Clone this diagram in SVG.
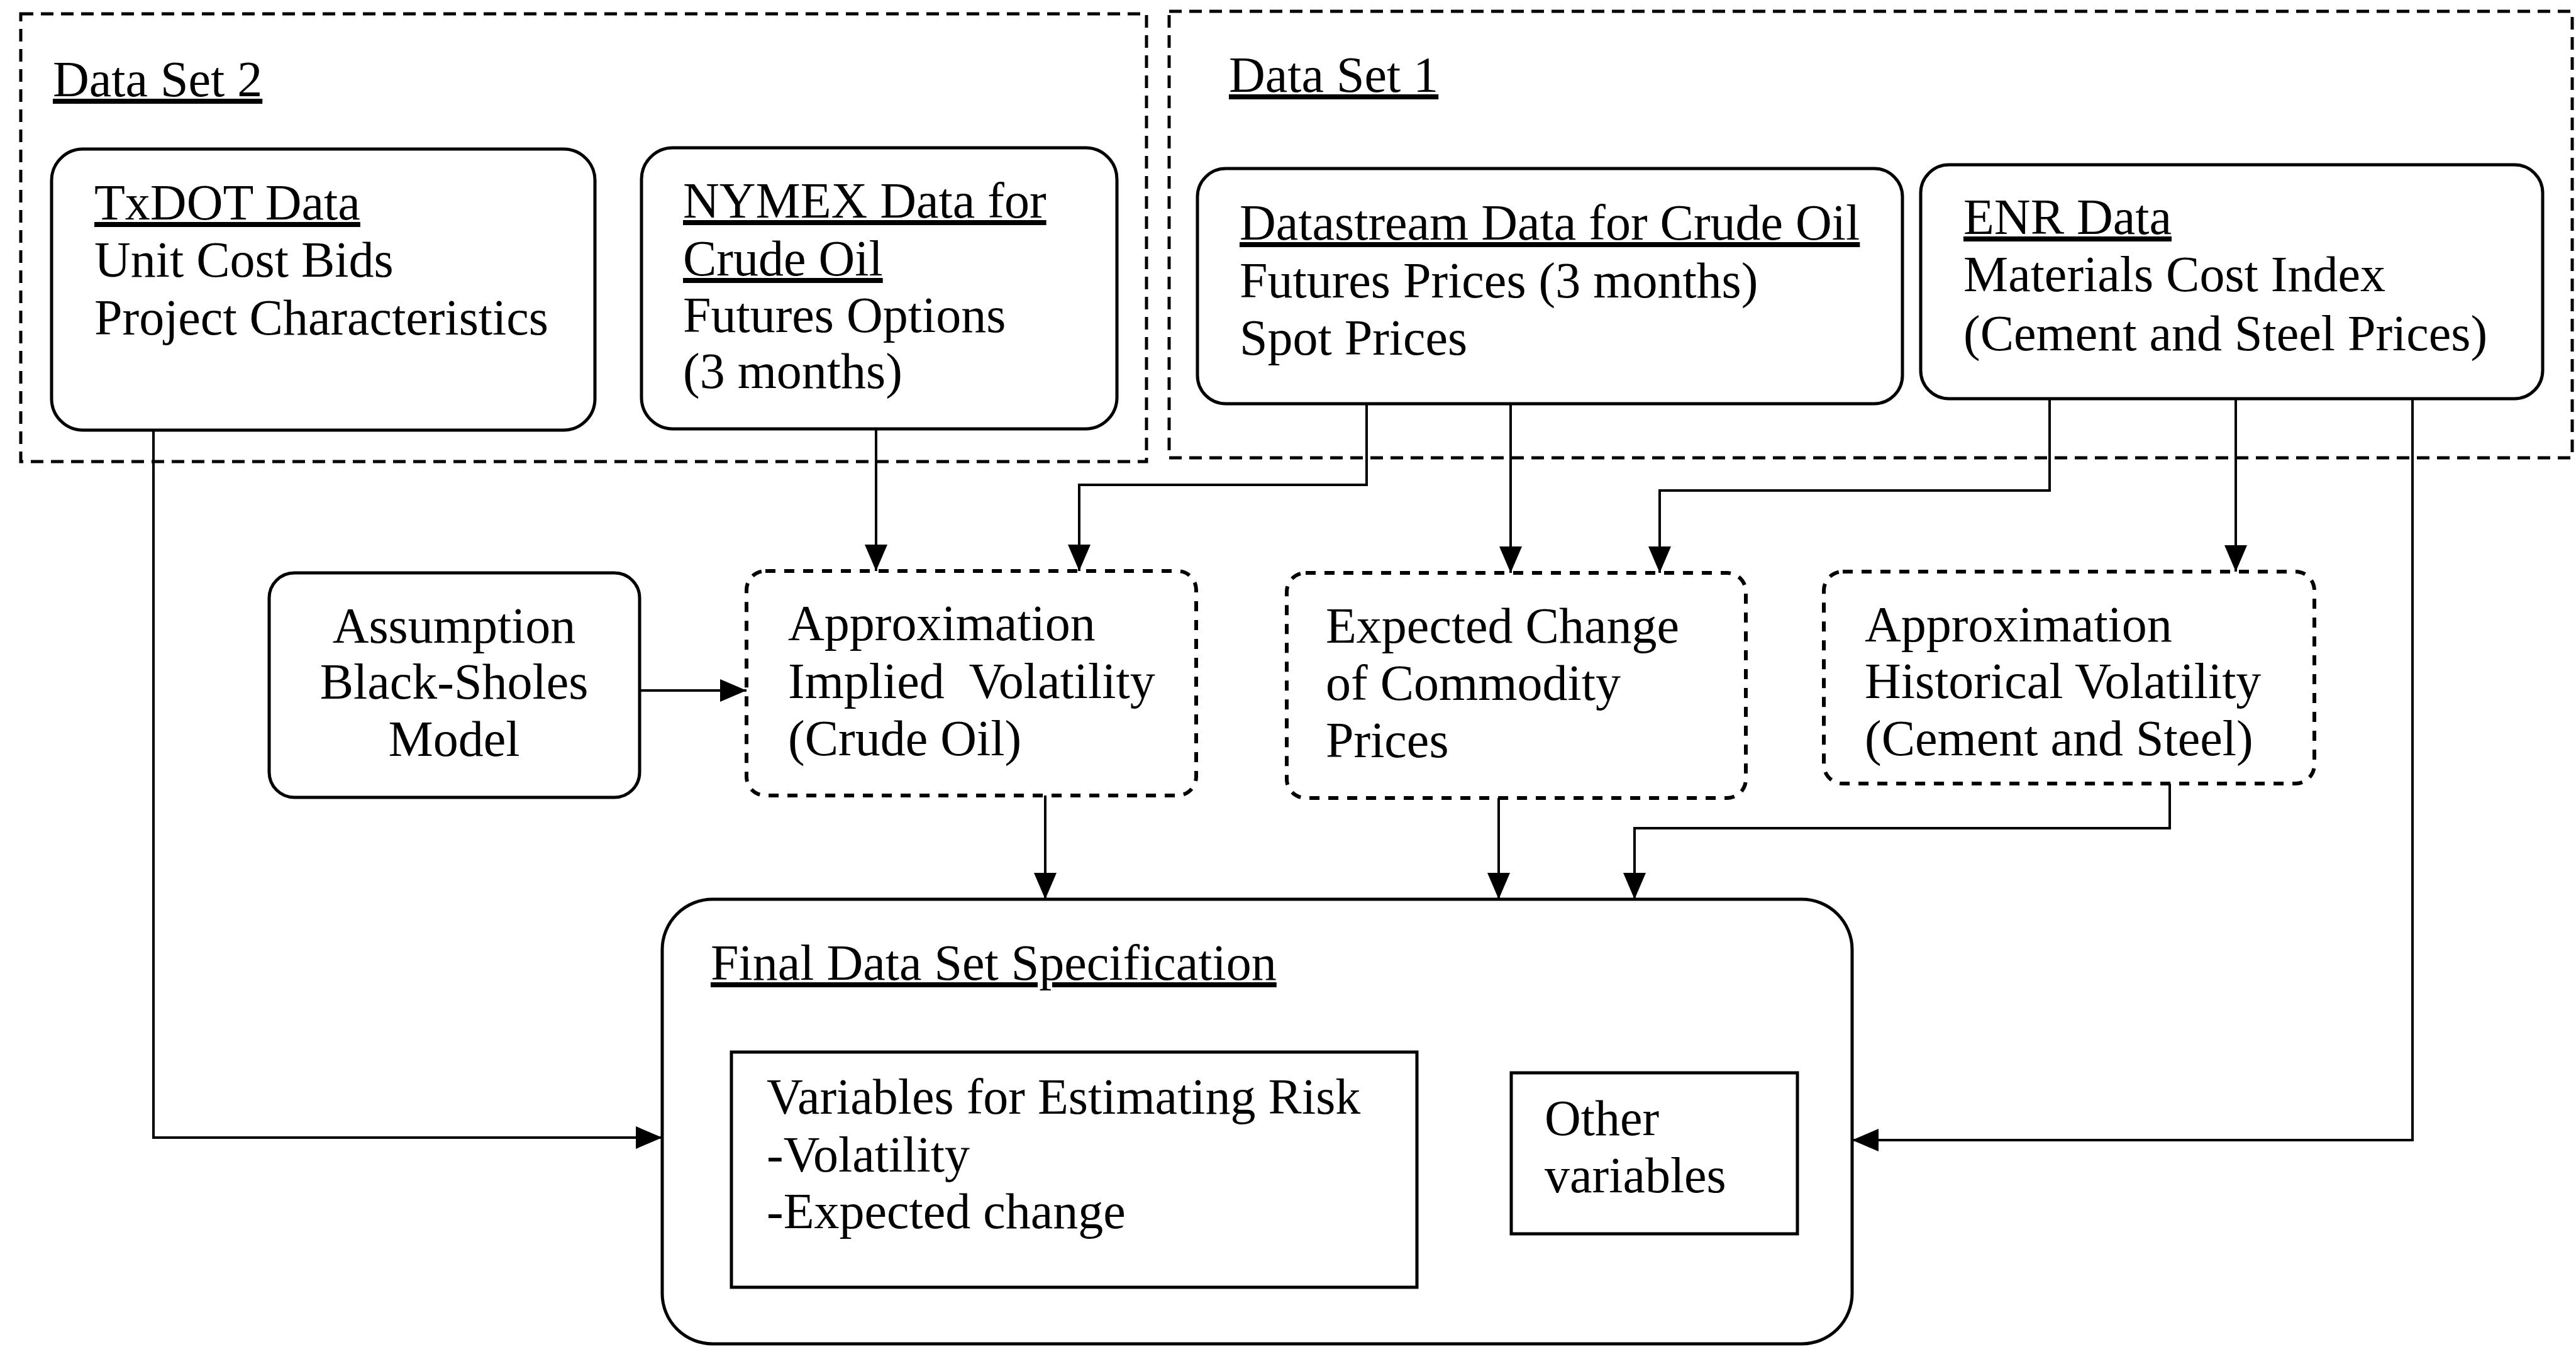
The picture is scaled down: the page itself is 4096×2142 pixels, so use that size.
<svg xmlns="http://www.w3.org/2000/svg" width="4096" height="2142" viewBox="0 0 4096 2142">
<style>
text{font-family:"Liberation Serif","Times New Roman",serif;font-size:80px;fill:#000}
.u{text-decoration:underline}
.c{text-anchor:middle}
.group{fill:none;stroke:#000;stroke-width:5;stroke-dasharray:20 12}
.solid{fill:#fff;stroke:#000;stroke-width:5}
.dash{fill:#fff;stroke:#000;stroke-width:6;stroke-dasharray:16 14}
.conn{fill:none;stroke:#000;stroke-width:4}
</style>
<defs>
<marker id="arr" markerUnits="userSpaceOnUse" markerWidth="42" markerHeight="36" viewBox="0 0 42 36" refX="42" refY="18" orient="auto">
<path d="M0,0 L42,18 L0,36 Z" fill="#000"/>
</marker>
</defs>
<rect width="4096" height="2142" fill="#fff"/>
<g id="dataset2">
<rect class="group" x="33" y="22" width="1790" height="712"/>
<text class="u" x="84" y="153">Data Set 2</text>
</g>
<g id="dataset1">
<rect class="group" x="1859" y="18" width="2231" height="710"/>
<text class="u" x="1954" y="146">Data Set 1</text>
</g>
<g id="connectors">
<path class="conn" d="M2173,642 V771 H1716 V908" marker-end="url(#arr)"/>
<path class="conn" d="M1393,682 V908" marker-end="url(#arr)"/>
<path class="conn" d="M2402,642 V911" marker-end="url(#arr)"/>
<path class="conn" d="M3259,634 V780 H2639 V911" marker-end="url(#arr)"/>
<path class="conn" d="M3555,634 V909" marker-end="url(#arr)"/>
<path class="conn" d="M3836,634 V1813 H2945" marker-end="url(#arr)"/>
<path class="conn" d="M244,684 V1809 H1053" marker-end="url(#arr)"/>
<path class="conn" d="M1017,1098 H1187" marker-end="url(#arr)"/>
<path class="conn" d="M1662,1265 V1430" marker-end="url(#arr)"/>
<path class="conn" d="M2383,1269 V1430" marker-end="url(#arr)"/>
<path class="conn" d="M3450,1246 V1317 H2599 V1430" marker-end="url(#arr)"/>
</g>
<g id="txdot">
<rect class="solid" x="82" y="237" width="864" height="447" rx="50"/>
<text class="u" x="150" y="349">TxDOT Data</text>
<text x="150" y="440">Unit Cost Bids</text>
<text x="150" y="532">Project Characteristics</text>
</g>
<g id="nymex">
<rect class="solid" x="1020" y="235" width="756" height="447" rx="50"/>
<text class="u" x="1086" y="346">NYMEX Data for</text>
<text class="u" x="1086" y="438">Crude Oil</text>
<text x="1086" y="528">Futures Options</text>
<text x="1086" y="617">(3 months)</text>
</g>
<g id="datastream">
<rect class="solid" x="1904" y="268" width="1121" height="374" rx="45"/>
<text class="u" x="1971" y="381">Datastream Data for Crude Oil</text>
<text x="1971" y="473">Futures Prices (3 months)</text>
<text x="1971" y="564">Spot Prices</text>
</g>
<g id="enr">
<rect class="solid" x="3054" y="262" width="989" height="372" rx="45"/>
<text class="u" x="3122" y="372">ENR Data</text>
<text x="3122" y="463">Materials Cost Index</text>
<text x="3122" y="557">(Cement and Steel Prices)</text>
</g>
<g id="assumption">
<rect class="solid" x="428" y="911" width="589" height="357" rx="40"/>
<text class="c" x="722" y="1022">Assumption</text>
<text class="c" x="722" y="1111">Black-Sholes</text>
<text class="c" x="722" y="1202">Model</text>
</g>
<g id="implied">
<rect class="dash" x="1187" y="908" width="715" height="357" rx="30"/>
<text x="1253" y="1018">Approximation</text>
<text x="1253" y="1110" style="white-space:pre">Implied  Volatility</text>
<text x="1253" y="1201">(Crude Oil)</text>
</g>
<g id="expected">
<rect class="dash" x="2046" y="911" width="730" height="358" rx="30"/>
<text x="2108" y="1022">Expected Change</text>
<text x="2108" y="1113">of Commodity</text>
<text x="2108" y="1204">Prices</text>
</g>
<g id="historical">
<rect class="dash" x="2900" y="909" width="780" height="337" rx="30"/>
<text x="2965" y="1020">Approximation</text>
<text x="2965" y="1110">Historical Volatility</text>
<text x="2965" y="1201">(Cement and Steel)</text>
</g>
<g id="final">
<rect class="solid" x="1053" y="1430" width="1892" height="707" rx="80"/>
<text class="u" x="1130" y="1558">Final Data Set Specification</text>
</g>
<g id="variables">
<rect class="solid" x="1163" y="1673" width="1090" height="374"/>
<text x="1219" y="1771">Variables for Estimating Risk</text>
<text x="1219" y="1863">-Volatility</text>
<text x="1219" y="1953">-Expected change</text>
</g>
<g id="other">
<rect class="solid" x="2403" y="1706" width="455" height="256"/>
<text x="2456" y="1805">Other</text>
<text x="2456" y="1896">variables</text>
</g>
</svg>
